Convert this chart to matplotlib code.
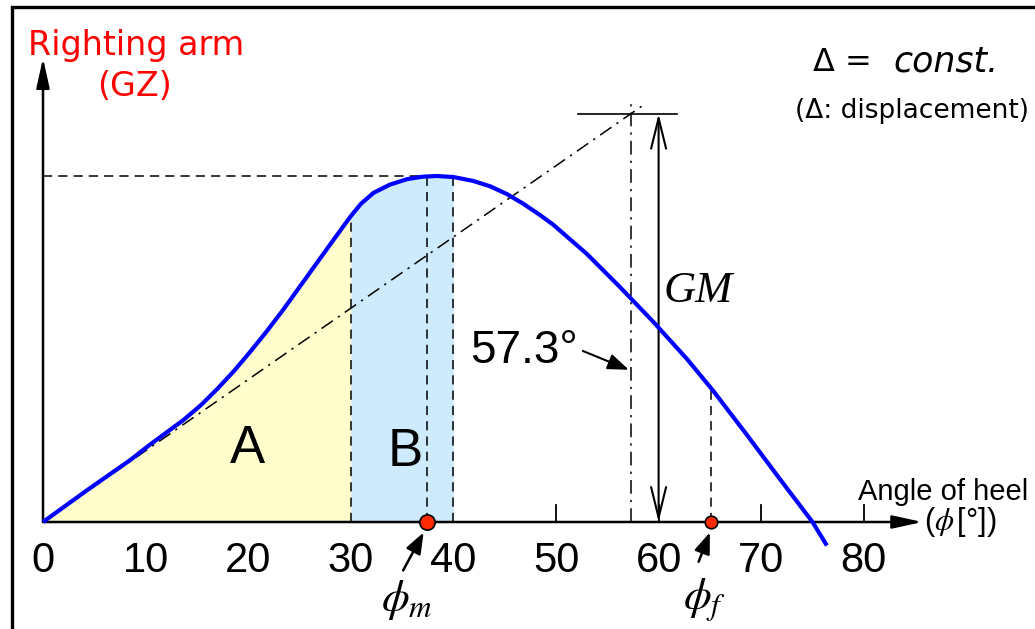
import numpy as np
import matplotlib
matplotlib.use("Agg")
import matplotlib.pyplot as plt
from matplotlib.patches import Rectangle

plt.rcParams["font.family"] = ["Liberation Sans", "DejaVu Sans"]
plt.rcParams["mathtext.fontset"] = "stix"

# ---- GZ curve (normalised so that GZ_max = 1) ------------------------------
heel_deg = np.array([0, 4.3, 8.5, 10.4, 13.7, 15.4, 17.0, 18.6, 20.2, 21.8, 23.4,
                     25.0, 26.7, 28.5, 30.0, 31.0, 32.2, 33.8, 35.5, 37.0, 38.4,
                     40.0, 41.9, 43.6, 45.2, 46.8, 48.4, 49.7, 53.0, 56.2, 59.5,
                     62.8, 65.3, 68.6, 71.8, 75.0, 76.4])
gz = np.array([0, 0.092, 0.179, 0.223, 0.295, 0.338, 0.385, 0.436, 0.492, 0.551,
               0.613, 0.679, 0.749, 0.823, 0.884, 0.920, 0.951, 0.975, 0.991,
               0.998, 1.000, 0.997, 0.986, 0.970, 0.948, 0.920, 0.888, 0.860,
               0.775, 0.680, 0.578, 0.470, 0.380, 0.252, 0.125, 0.0, -0.068])

area_a = (0, 30)          # integration limits of area A
area_b = (30, 40)         # integration limits of area B
phi_m = 37.4              # angle of maximum GZ
phi_f = 65.1              # flooding angle
one_rad = 57.3            # 1 rad in degrees
gm = 1.18                 # metacentric height, same units as GZ

tick_values = [0, 10, 20, 30, 40, 50, 60, 70, 80]
minor_marks = [50, 60, 70, 80]

# ---- canvas -----------------------------------------------------------------
PX_DEG = 10.26            # pixels per degree
PX_GZ = 346.0             # pixels per GZ unit
W, H = 1035, 629
X0, Y0 = 43, 522          # origin in pixels

fig = plt.figure(figsize=(W / 100, H / 100), dpi=100)
ax = fig.add_axes([0, 0, 1, 1])
ax.set_xlim(-X0 / PX_DEG, (W - X0) / PX_DEG)
ax.set_ylim(-(H - Y0) / PX_GZ, Y0 / PX_GZ)
ax.set_axis_off()

fig.add_artist(Rectangle((12 / W, -0.05), 1.2, 1.05 - 7 / H, transform=fig.transFigure,
                         fill=False, lw=2.4, ec="black"))

gz_at = lambda x: float(np.interp(x, heel_deg, gz))
gz_max = gz.max()
x_peak = heel_deg[gz.argmax()]

# shaded areas
ma = (heel_deg >= area_a[0]) & (heel_deg <= area_a[1])
mb = (heel_deg >= area_b[0]) & (heel_deg <= area_b[1])
ax.fill_between(heel_deg[ma], 0, gz[ma], color="#FFFDCC", lw=0, zorder=1)
ax.fill_between(heel_deg[mb], 0, gz[mb], color="#CDEBFD", lw=0, zorder=1)

# axes with arrow heads
arrow_kw = dict(arrowstyle="-|>,head_length=1.0,head_width=0.22", lw=1.8,
                color="black", mutation_scale=18, shrinkA=0, shrinkB=0)
ax.annotate("", xy=(0, 464 / PX_GZ), xytext=(0, 0), arrowprops=arrow_kw, zorder=4)
ax.annotate("", xy=(85.7, 0), xytext=(0, 0), arrowprops=arrow_kw, zorder=4)
for m in minor_marks:
    ax.plot([m, m], [0, 0.05], color="black", lw=1.3, zorder=3)

for t in tick_values:
    ax.text(t, -50 / PX_GZ, str(t), ha="center", va="baseline", fontsize=30)

# dashed guide lines
dash = dict(color="black", lw=1.1, ls=(0, (6, 4)), zorder=3)
ax.plot([0, x_peak], [gz_max] * 2, **dash)
ax.plot([phi_m, phi_m], [0, gz_max], **dash)
for x in (area_b[0], area_b[1], phi_f):
    ax.plot([x, x], [0, gz_at(x)], **dash)

# tangent at origin and GM construction
dashdot = dict(color="black", lw=1.1, ls=(0, (9, 4, 1.5, 4)), zorder=3)
tx = np.array([0, 58.5])
ax.plot(tx, gm * tx / one_rad, **dashdot)
ax.plot([one_rad, one_rad], [0, 1.226], **dashdot)
ax.plot([one_rad - 5.2, one_rad + 4.5], [gm, gm], color="black", lw=1.2, zorder=3)
ax.annotate("", xy=(60, gm), xytext=(60, 0),
            arrowprops=dict(arrowstyle="<->,head_length=1.1,head_width=0.27",
                            lw=1.5, color="black", mutation_scale=20,
                            shrinkA=0, shrinkB=0), zorder=3)

# the GZ curve
ax.plot(heel_deg, gz, color="#0000FF", lw=3, solid_capstyle="butt",
        solid_joinstyle="round", zorder=5)

# marked angles
ax.plot([phi_m], [0], "o", ms=11, mfc="#FF2A00", mec="black", mew=1.2, zorder=6)
ax.plot([phi_f], [0], "o", ms=9, mfc="#FF2A00", mec="black", mew=1.2, zorder=6)
small_arrow = dict(arrowstyle="-|>,head_length=0.8,head_width=0.3", lw=1.8,
                   color="black", mutation_scale=16, shrinkA=0, shrinkB=0)
ax.annotate("", xy=(phi_m - 0.3, -0.03), xytext=(phi_m - 2.3, -0.14),
            arrowprops=small_arrow)
ax.annotate("", xy=(phi_f - 0.1, -0.03), xytext=(phi_f - 1.2, -0.115),
            arrowprops=small_arrow)
ax.text(phi_m - 1.9, -0.225, r"$\phi_m$", ha="center", va="center", fontsize=32)
ax.text(phi_f - 0.6, -0.225, r"$\phi_f$", ha="center", va="center", fontsize=32)

# labels
ax.text(19.9, (Y0 - 449) / PX_GZ, "A", ha="center", va="center", fontsize=38)
ax.text(35.3, (Y0 - 452) / PX_GZ, "B", ha="center", va="center", fontsize=38)
ax.text(60.5, (Y0 - 302) / PX_GZ, "GM", ha="left", va="baseline", fontsize=32,
        family="Liberation Serif", style="italic")
ax.annotate("57.3°", xy=(one_rad - 0.2, 0.44), xytext=(41.6, (Y0 - 363) / PX_GZ),
            fontsize=33, ha="left", va="baseline",
            arrowprops=dict(arrowstyle="-|>,head_length=0.8,head_width=0.3", lw=1.5,
                            color="black", mutation_scale=16, shrinkA=2, shrinkB=0,
                            relpos=(1.0, 0.55)))

ax.text(79.4, (Y0 - 500) / PX_GZ, "Angle of heel", ha="left", va="baseline",
        fontsize=21)
ax.text(85.9, 0, r"($\phi\,$[°])", ha="left", va="center", fontsize=22)

sans = ["DejaVu Sans"]
fig.text(28 / W, 1 - 45 / H, "Righting arm", color="#FF0000", fontsize=24,
         ha="left", va="center", family=sans)
fig.text(135 / W, 1 - 87 / H, "(GZ)", color="#FF0000", fontsize=24,
         ha="center", va="center", family=sans)
fig.text(882 / W, 1 - 71 / H, "Δ = ", fontsize=23, ha="right", va="baseline",
         family=sans)
fig.text(893 / W, 1 - 71 / H, "const.", fontsize=25, style="italic",
         ha="left", va="baseline", family=sans)
fig.text(912 / W, 1 - 118 / H, "(Δ: displacement)", fontsize=19,
         ha="center", va="baseline", family=sans)

fig.savefig("out.png", dpi=100)
